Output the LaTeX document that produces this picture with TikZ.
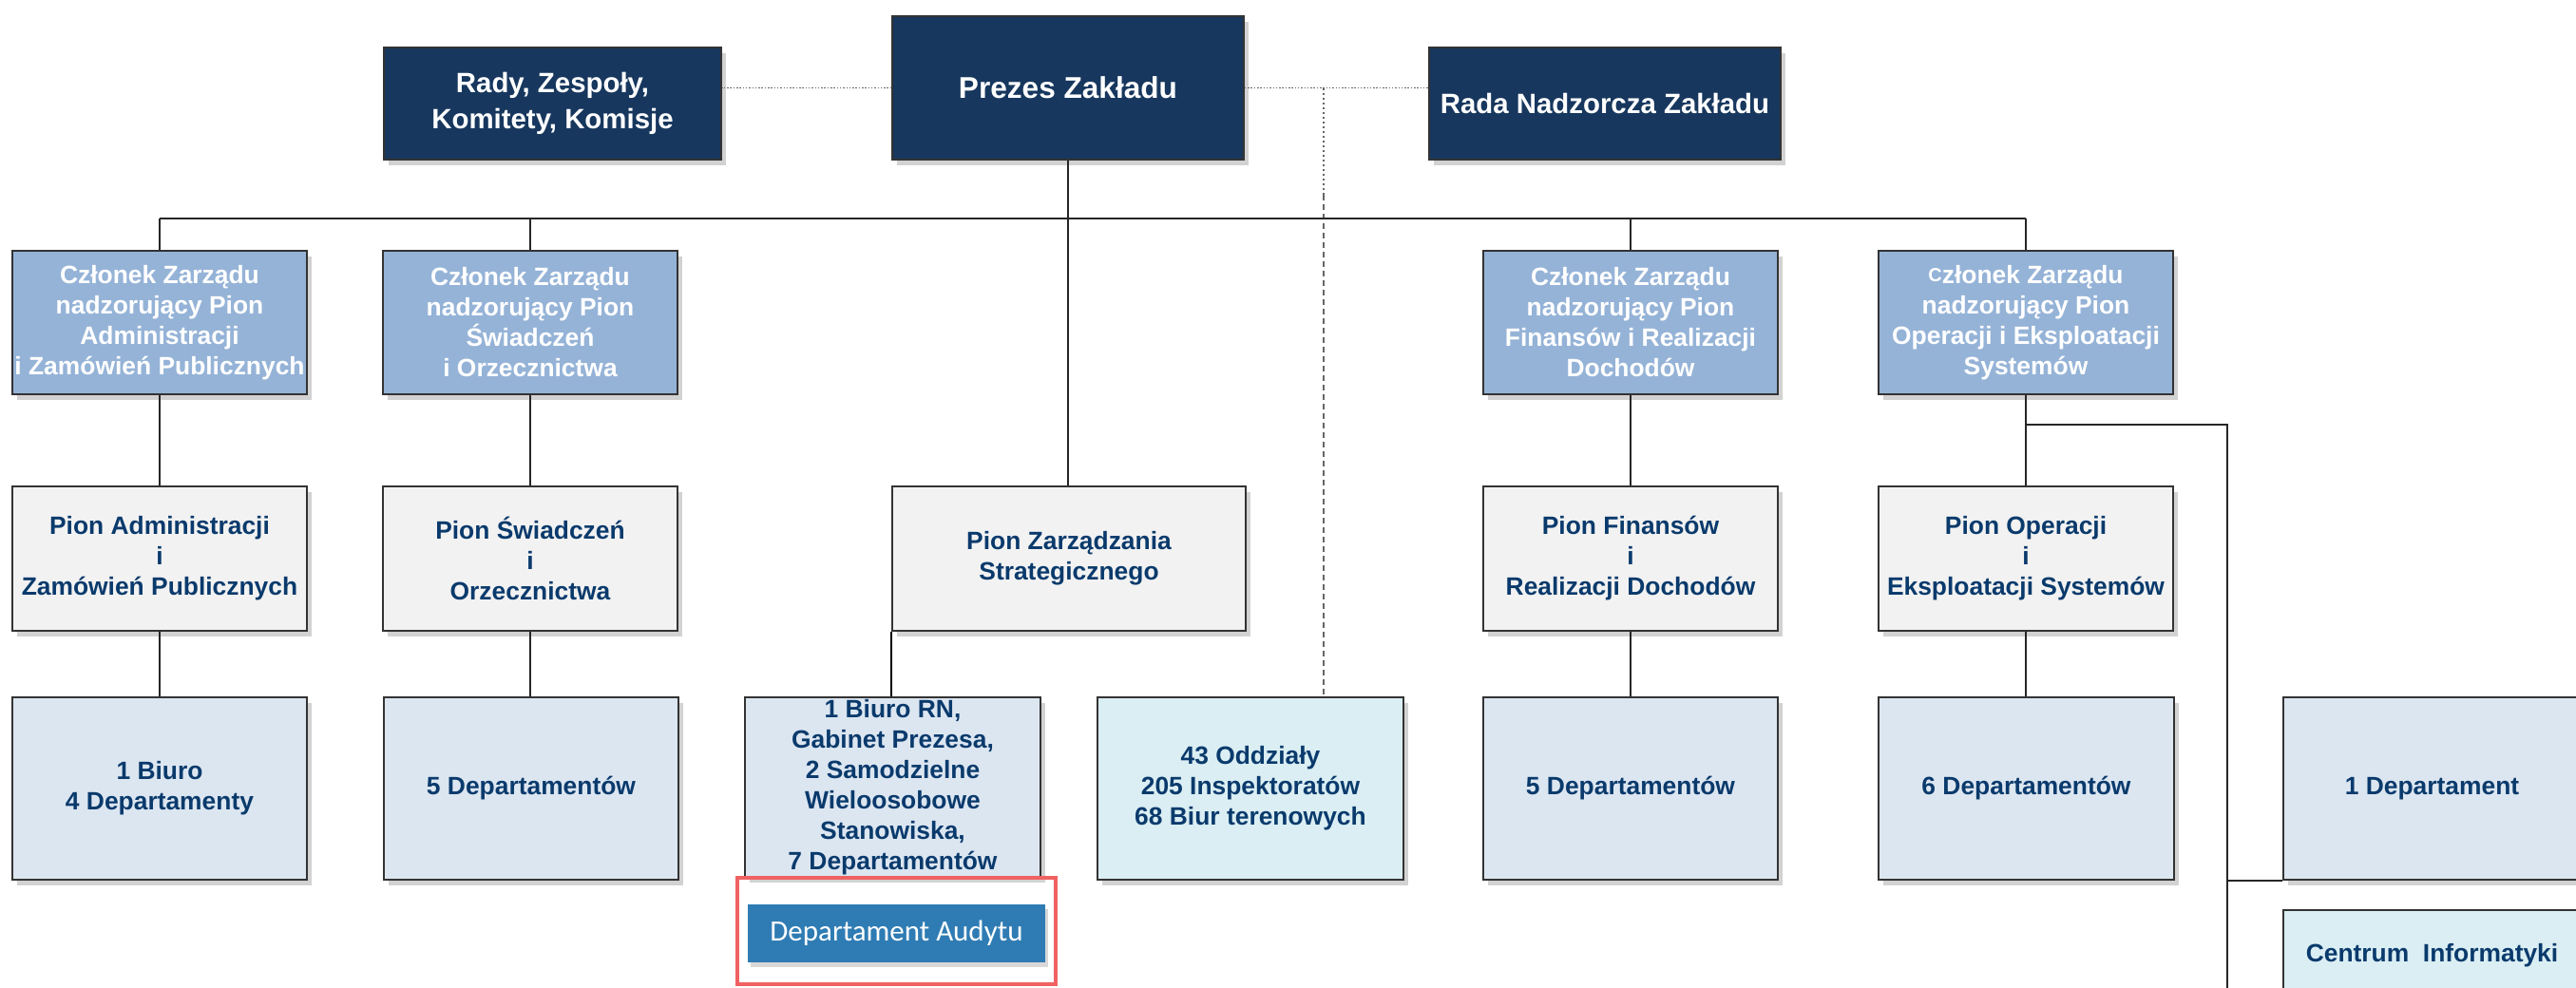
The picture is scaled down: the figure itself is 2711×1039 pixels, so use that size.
\documentclass[tikz,border=0pt]{standalone}
\usepackage{fontspec}
\setmainfont{Liberation Sans}
\newfontfamily\carlito{Carlito}
\usetikzlibrary{shadows}
\definecolor{navy}{HTML}{17375E}
\definecolor{czfill}{HTML}{95B3D7}
\definecolor{pionfill}{HTML}{F2F2F2}
\definecolor{depfill}{HTML}{DCE6F1}
\definecolor{aquafill}{HTML}{DAEEF3}
\definecolor{txtblue}{HTML}{0A3A6C}
\definecolor{audytfill}{HTML}{2F7CB4}
\definecolor{redframe}{HTML}{F06262}
\begin{document}
\begin{tikzpicture}[x=1pt,y=-1pt,
  base/.style={draw=black!80, line width=1.6pt, inner sep=0pt, align=center,
    drop shadow={opacity=0.35, shadow xshift=5pt, shadow yshift=-6pt}},
  mainfont/.style={font=\fontsize{26.4}{32}\selectfont\bfseries},
  topbox/.style={base, fill=navy, text=white, minimum width=355pt, minimum height=118pt,
    font=\fontsize{29.4}{38}\selectfont\bfseries},
  czbox/.style={base, mainfont, fill=czfill, text=white, minimum width=310pt, minimum height=151pt},
  pionbox/.style={base, mainfont, fill=pionfill, text=txtblue, minimum width=310pt, minimum height=152pt},
  depbox/.style={base, mainfont, fill=depfill, text=txtblue, minimum width=310pt, minimum height=192pt},
  link/.style={line width=1.5pt, draw=black!85},
  dotlink/.style={line width=1.6pt, draw=black!60, dash pattern=on 1.5pt off 1.8pt},
  dotlinkb/.style={line width=1.6pt, draw=black!60, dash pattern=on 2pt off 3pt},
  dashlink/.style={line width=1.6pt, draw=black!60, dash pattern=on 6pt off 4pt}
]
\useasboundingbox (0,0) rectangle (2711,1039);
\clip (0,0) rectangle (2711,1039);
\fill[white] (0,0) rectangle (2711,1039);

% top row
\node[topbox] (rady) at (581.5,109) {Rady, Zespoły,\\Komitety, Komisje};
\node[topbox, minimum width=370pt, minimum height=151pt, font=\fontsize{31.6}{38}\selectfont\bfseries] (prezes) at (1124,92.5) {Prezes Zakładu};
\node[topbox, minimum width=370pt] (rada) at (1689,109) {Rada Nadzorcza Zakładu};

% members of the board
\node[czbox] (c1) at (168,339.5) {Członek Zarządu\\nadzorujący Pion\\Administracji\\i Zamówień Publicznych};
\node[czbox] (c2) at (558,339.5) {Członek Zarządu\\nadzorujący Pion\\Świadczeń\\i Orzecznictwa};
\node[czbox] (c3) at (1716,339.5) {Członek Zarządu\\nadzorujący Pion\\Finansów i Realizacji\\Dochodów};
\node[czbox] (c4) at (2132,339.5) {\raisebox{2pt}{\fontsize{20}{32}\selectfont C}złonek Zarządu\\nadzorujący Pion\\Operacji i Eksploatacji\\Systemów};

% divisions
\node[pionbox] (p1) at (168,588) {Pion Administracji\\i\\Zamówień Publicznych};
\node[pionbox] (p2) at (558,588) {Pion Świadczeń\\i\\Orzecznictwa};
\node[pionbox, minimum width=372pt] (pzs) at (1125,588) {Pion Zarządzania\\Strategicznego};
\node[pionbox] (p3) at (1716,588) {Pion Finansów\\i\\Realizacji Dochodów};
\node[pionbox] (p4) at (2132,588) {Pion Operacji\\i\\Eksploatacji Systemów};

% departments
\node[depbox] (d1) at (168,830) {1 Biuro\\4 Departamenty};
\node[depbox] (d2) at (559,830) {5 Departamentów};
\node[depbox, minimum width=311pt, minimum height=189pt] (dpzs) at (939.5,828.5) {1 Biuro RN,\\Gabinet Prezesa,\\2 Samodzielne\\Wieloosobowe\\Stanowiska,\\ 7 Departamentów};
\node[depbox, fill=aquafill, minimum width=322pt] (odd) at (1316,830) {43 Oddziały\\205 Inspektoratów\\68 Biur terenowych};
\node[depbox] (d3) at (1716,830) {5 Departamentów};
\node[depbox, minimum width=311pt] (d4) at (2132.5,830) {6 Departamentów};
\node[depbox, minimum width=313pt] (dep1) at (2559.5,830) {1 Departament};
\node[base, mainfont, fill=aquafill, text=txtblue, minimum width=313pt, anchor=north,
      text height=54.5pt, text depth=137.5pt] (cent) at (2559.5,957) {Centrum\ \ Informatyki};

% audit department with red frame
\node[draw=redframe, line width=4pt, minimum width=335pt, minimum height=112pt, inner sep=0pt] (rframe) at (943.5,980) {};
\node[fill=audytfill, text=white, minimum width=313pt, minimum height=61pt, inner sep=0pt,
      font=\fontsize{31}{36}\selectfont\carlito,
      drop shadow={opacity=0.3, shadow xshift=3pt, shadow yshift=-5pt}] (audyt) at (943.5,982.5) {Departament Audytu};

% dotted links on the top row
\draw[dotlink] (prezes.west) -- (prezes.west -| rady.east);
\draw[dotlink] (prezes.east) -- (prezes.east -| rada.west);
\coordinate (rnb) at (1393,92.5);
\coordinate (rnm) at (1393,205);
\draw[dotlinkb] (rnb) -- (rnm);
\draw[dashlink] (rnm) -- (rnm |- odd.north);

% main bus
\coordinate (bus) at (1124,230);
\draw[link] (prezes.south) -- (prezes.south |- pzs.north);
\draw[link] (c1.north |- bus) -- (c4.north |- bus);
\foreach \n in {c1,c2,c3,c4}{
  \draw[link] (\n.north |- bus) -- (\n.north);
}
\draw[link] (c1.south) -- (p1.north);
\draw[link] (c2.south) -- (p2.north);
\draw[link] (c3.south) -- (p3.north);
\draw[link] (c4.south) -- (p4.north);
\draw[link] (p1.south) -- (d1.north);
\draw[link] (p2.south) -- (p2.south |- d2.north);
\draw[link] (p3.south) -- (d3.north);
\draw[link] (p4.south) -- (p4.south |- d4.north);
\draw[line width=2.2pt, draw=black] (pzs.south west) -- (pzs.south west |- dpzs.north);

% branch to IT units
\coordinate (br) at (2344,447);
\draw[link] (c4.south |- br) -- (br) -- (2344,1045);
\draw[link] (br |- dep1.south west) -- (dep1.south west);
\end{tikzpicture}
\end{document}
